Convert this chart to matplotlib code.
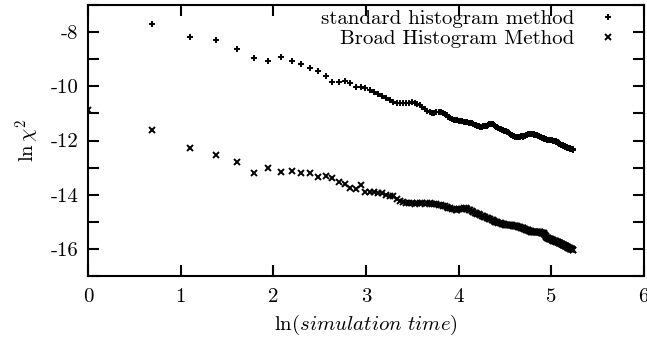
import numpy as np
import matplotlib
matplotlib.use("Agg")
import matplotlib.pyplot as plt
from matplotlib.ticker import MultipleLocator, FuncFormatter

# simulation time steps
t_std = np.arange(2, 189)
t_bhm = np.arange(1, 189)

# ln chi^2, standard histogram method (t = 2 .. 188)
ln_chi2_std = [
    -7.70, -8.18, -8.29, -8.62, -8.97, -9.05, -8.90, -9.06, -9.18,
    -9.31, -9.45, -9.61, -9.83, -9.83, -9.80, -9.89, -10.01, -10.04, -10.06,
    -10.12, -10.20, -10.30, -10.37, -10.44, -10.50, -10.57, -10.60, -10.62, -10.63,
    -10.62, -10.60, -10.58, -10.60, -10.64, -10.69, -10.76, -10.85, -10.90, -10.96,
    -11.00, -10.97, -10.94, -10.94, -10.95, -10.98, -11.03, -11.06, -11.12, -11.18,
    -11.22, -11.24, -11.25, -11.26, -11.27, -11.27, -11.28, -11.30, -11.31, -11.33,
    -11.35, -11.36, -11.37, -11.39, -11.41, -11.43, -11.45, -11.47, -11.49, -11.49,
    -11.48, -11.47, -11.46, -11.45, -11.42, -11.40, -11.38, -11.38, -11.40, -11.44,
    -11.47, -11.49, -11.51, -11.54, -11.56, -11.58, -11.60, -11.62, -11.64, -11.65,
    -11.66, -11.67, -11.69, -11.72, -11.75, -11.78, -11.81, -11.83, -11.85, -11.86,
    -11.87, -11.87, -11.86, -11.87, -11.86, -11.86, -11.85, -11.85, -11.86, -11.85,
    -11.84, -11.82, -11.80, -11.78, -11.77, -11.76, -11.76, -11.75, -11.75, -11.76,
    -11.76, -11.77, -11.77, -11.78, -11.78, -11.79, -11.80, -11.81, -11.83, -11.85,
    -11.86, -11.87, -11.88, -11.89, -11.90, -11.91, -11.92, -11.93, -11.94, -11.95,
    -11.96, -11.97, -11.97, -11.98, -11.98, -11.98, -11.99, -11.98, -11.99, -11.99,
    -12.00, -12.00, -12.01, -12.01, -12.02, -12.03, -12.04, -12.05, -12.06, -12.08,
    -12.09, -12.11, -12.12, -12.14, -12.15, -12.16, -12.17, -12.18, -12.19, -12.20,
    -12.21, -12.22, -12.23, -12.24, -12.24, -12.25, -12.26, -12.27, -12.28, -12.28,
    -12.29, -12.30, -12.30, -12.31, -12.32, -12.32, -12.33, -12.34,
]

# ln chi^2, broad histogram method (t = 1 .. 188)
ln_chi2_bhm = [
    -10.87,
    -11.61, -12.29, -12.54, -12.78, -13.18, -13.01, -13.15, -13.13, -13.21,
    -13.19, -13.36, -13.30, -13.39, -13.54, -13.62, -13.74, -13.80, -13.64, -13.89,
    -13.90, -13.91, -13.93, -13.95, -14.01, -14.03, -14.06, -14.14, -14.25, -14.27,
    -14.29, -14.31, -14.32, -14.33, -14.32, -14.31, -14.32, -14.33, -14.32, -14.32,
    -14.33, -14.35, -14.36, -14.37, -14.38, -14.40, -14.43, -14.46, -14.48, -14.50,
    -14.52, -14.54, -14.55, -14.55, -14.54, -14.52, -14.51, -14.50, -14.50, -14.52,
    -14.55, -14.58, -14.61, -14.64, -14.67, -14.69, -14.71, -14.73, -14.75, -14.77,
    -14.79, -14.81, -14.83, -14.85, -14.87, -14.89, -14.91, -14.93, -14.95, -14.97,
    -14.99, -15.00, -15.02, -15.03, -15.05, -15.06, -15.07, -15.08, -15.09, -15.10,
    -15.11, -15.12, -15.12, -15.12, -15.12, -15.13, -15.13, -15.14, -15.14, -15.15,
    -15.15, -15.16, -15.17, -15.18, -15.19, -15.20, -15.21, -15.22, -15.23, -15.24,
    -15.25, -15.27, -15.29, -15.30, -15.31, -15.32, -15.33, -15.34, -15.35, -15.36,
    -15.36, -15.37, -15.37, -15.38, -15.38, -15.38, -15.39, -15.39, -15.39, -15.39,
    -15.39, -15.39, -15.40, -15.40, -15.40, -15.40, -15.41, -15.45, -15.50, -15.54,
    -15.57, -15.59, -15.60, -15.61, -15.62, -15.63, -15.64, -15.65, -15.66, -15.67,
    -15.68, -15.69, -15.70, -15.71, -15.72, -15.72, -15.73, -15.74, -15.75, -15.76,
    -15.77, -15.78, -15.79, -15.80, -15.81, -15.82, -15.83, -15.84, -15.85, -15.86,
    -15.87, -15.88, -15.89, -15.90, -15.91, -15.92, -15.93, -15.94, -15.95, -15.97,
    -15.98, -15.99, -15.99, -16.00, -16.01, -16.02, -16.03, -16.04,
]

plt.rcParams['font.family'] = 'cmr10'
plt.rcParams['mathtext.fontset'] = 'cm'
plt.rcParams['axes.unicode_minus'] = False
plt.rcParams['axes.formatter.use_mathtext'] = True

fig = plt.figure(figsize=(6.47, 3.37), dpi=100)
ax = fig.add_axes([0.136, 0.181, 0.859, 0.804])

ax.plot(np.log(t_std), ln_chi2_std, linestyle='none', marker='+',
        color='black', markersize=4.8, markeredgewidth=1.4,
        label='standard histogram method')
ax.plot(np.log(t_bhm), ln_chi2_bhm, linestyle='none', marker='x',
        color='black', markersize=3.8, markeredgewidth=1.4,
        label='Broad Histogram Method')

ax.set_xlim(0, 6)
ax.set_ylim(-17, -7)
ax.xaxis.set_major_locator(MultipleLocator(1))
ax.yaxis.set_major_locator(MultipleLocator(1))
ax.yaxis.set_major_formatter(FuncFormatter(
    lambda v, pos: '%d' % v if int(round(v)) % 2 == 0 else ''))
ax.xaxis.set_major_formatter(FuncFormatter(lambda v, pos: '%d' % v))

ax.tick_params(direction='in', length=8, width=1.5, top=True, right=True,
               labelsize=15, pad=7)
ax.tick_params(axis='x', pad=9)
for s in ax.spines.values():
    s.set_linewidth(1.5)

ax.set_xlabel(r'$\ln(\mathit{simulation\ time})$', fontsize=15, labelpad=5)
ax.set_ylabel(r'$\ln\chi^2$', fontsize=15, labelpad=6)

ax.legend(loc='upper right', bbox_to_anchor=(0.962, 0.99), frameon=False,
          markerfirst=False, fontsize=15, handlelength=1.2,
          handletextpad=1.0, labelspacing=0.05, borderaxespad=0.0,
          borderpad=0.1, markerscale=1.0)

fig.savefig('out.png', dpi=100)
